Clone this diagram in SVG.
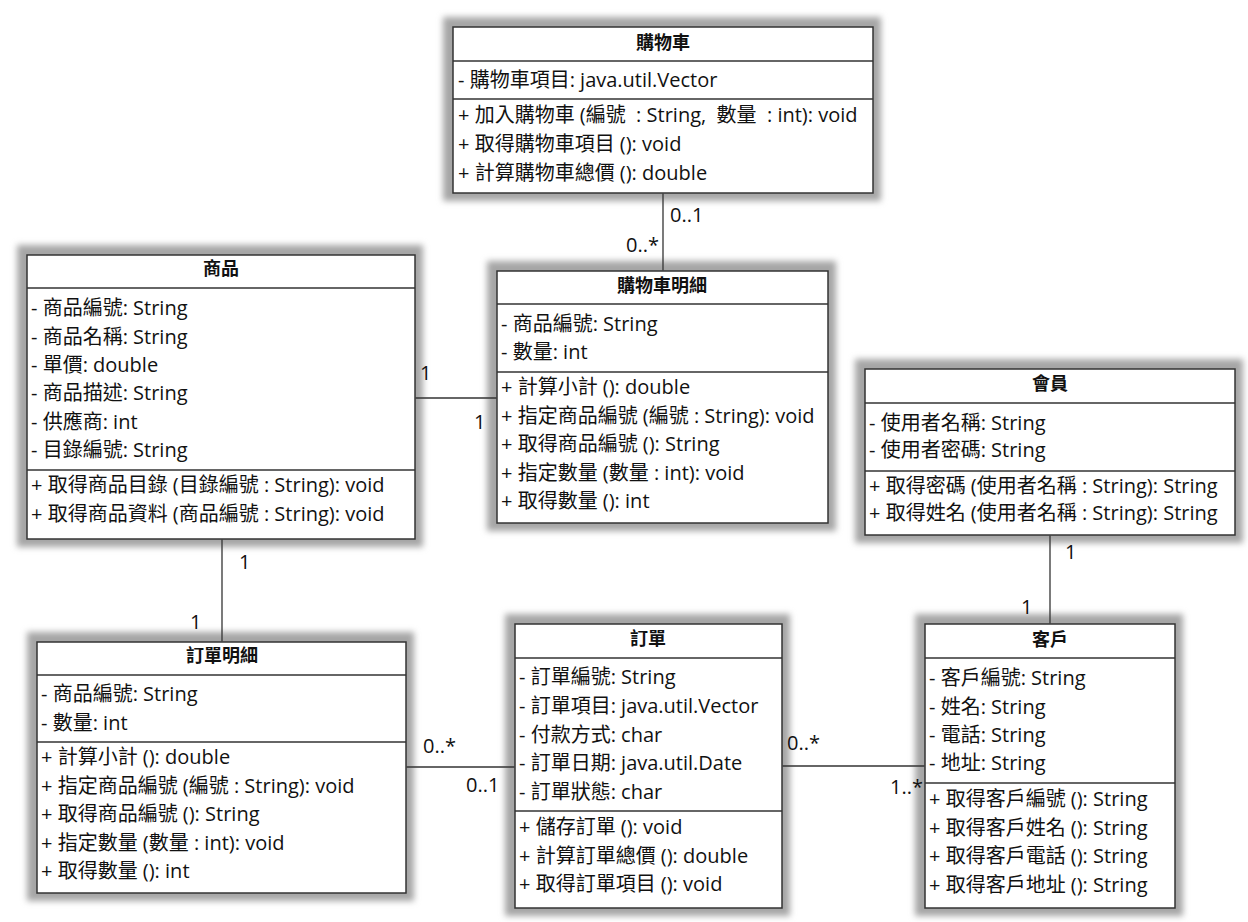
<svg xmlns="http://www.w3.org/2000/svg" width="1248" height="922" viewBox="0 0 1248 922">
<style>
text{font-family:"Open Sans","Noto Sans CJK TC",sans-serif;font-size:20px;fill:#111}
.t{font-size:18px;font-weight:bold;text-anchor:middle}
.box{fill:#fff;stroke:#333;stroke-width:1.5}
.div{stroke:#333;stroke-width:1.3}
.sh{fill:#a6a6a6;filter:url(#blur)}
.con line{stroke:#333;stroke-width:1.3}
</style>
<defs>
<filter id="blur" x="-10%" y="-10%" width="120%" height="120%"><feGaussianBlur stdDeviation="3"/></filter>
</defs>
<rect width="1248" height="922" fill="#fff"/>

<g id="cart">
<rect class="sh" x="443" y="17" width="438" height="184"/>
<rect class="box" x="453" y="27" width="420" height="166"/>
<line class="div" x1="453" y1="61" x2="873" y2="61"/>
<line class="div" x1="453" y1="99" x2="873" y2="99"/>
<text class="t" x="663" y="49">購物車</text>
<text x="458" y="87">- 購物車項目: java.util.Vector</text>
<text x="458" y="122">+ 加入購物車 (編號&#160;&#160;: String,&#160;&#160;數量&#160;&#160;: int): void</text>
<text x="458" y="151">+ 取得購物車項目 (): void</text>
<text x="458" y="179.5">+ 計算購物車總價 (): double</text>
</g>

<g id="product">
<rect class="sh" x="17" y="245" width="406" height="302"/>
<rect class="box" x="27" y="255" width="388" height="284"/>
<line class="div" x1="27" y1="288" x2="415" y2="288"/>
<line class="div" x1="27" y1="470" x2="415" y2="470"/>
<text class="t" x="221" y="275">商品</text>
<text x="31" y="315">- 商品編號: String</text>
<text x="31" y="343.5">- 商品名稱: String</text>
<text x="31" y="372">- 單價: double</text>
<text x="31" y="400">- 商品描述: String</text>
<text x="31" y="428.5">- 供應商: int</text>
<text x="31" y="457">- 目錄編號: String</text>
<text x="31" y="492">+ 取得商品目錄 (目錄編號 : String): void</text>
<text x="31" y="520.5">+ 取得商品資料 (商品編號 : String): void</text>
</g>

<g id="cartItem">
<rect class="sh" x="487" y="261" width="349" height="270"/>
<rect class="box" x="497" y="271" width="331" height="252"/>
<line class="div" x1="497" y1="304" x2="828" y2="304"/>
<line class="div" x1="497" y1="372" x2="828" y2="372"/>
<text class="t" x="662" y="292">購物車明細</text>
<text x="501" y="331">- 商品編號: String</text>
<text x="501" y="358.5">- 數量: int</text>
<text x="501" y="394">+ 計算小計 (): double</text>
<text x="501" y="422.5">+ 指定商品編號 (編號 : String): void</text>
<text x="501" y="451">+ 取得商品編號 (): String</text>
<text x="501" y="480">+ 指定數量 (數量 : int): void</text>
<text x="501" y="508">+ 取得數量 (): int</text>
</g>

<g id="member">
<rect class="sh" x="855" y="359" width="388" height="184"/>
<rect class="box" x="865" y="369" width="370" height="166"/>
<line class="div" x1="865" y1="403" x2="1235" y2="403"/>
<line class="div" x1="865" y1="471" x2="1235" y2="471"/>
<text class="t" x="1050" y="390">會員</text>
<text x="869" y="429.5">- 使用者名稱: String</text>
<text x="869" y="457">- 使用者密碼: String</text>
<text x="869" y="493">+ 取得密碼 (使用者名稱 : String): String</text>
<text x="869" y="520">+ 取得姓名 (使用者名稱 : String): String</text>
</g>

<g id="orderItem">
<rect class="sh" x="27" y="632" width="387" height="269"/>
<rect class="box" x="37" y="642" width="369" height="251"/>
<line class="div" x1="37" y1="675" x2="406" y2="675"/>
<line class="div" x1="37" y1="742" x2="406" y2="742"/>
<text class="t" x="222" y="662">訂單明細</text>
<text x="41" y="701">- 商品編號: String</text>
<text x="41" y="729.5">- 數量: int</text>
<text x="41" y="764">+ 計算小計 (): double</text>
<text x="41" y="792.5">+ 指定商品編號 (編號 : String): void</text>
<text x="41" y="821">+ 取得商品編號 (): String</text>
<text x="41" y="849.5">+ 指定數量 (數量 : int): void</text>
<text x="41" y="878">+ 取得數量 (): int</text>
</g>

<g id="order">
<rect class="sh" x="505" y="614" width="285" height="302"/>
<rect class="box" x="515" y="624" width="267" height="284"/>
<line class="div" x1="515" y1="658" x2="782" y2="658"/>
<line class="div" x1="515" y1="811" x2="782" y2="811"/>
<text class="t" x="648" y="645">訂單</text>
<text x="519" y="684">- 訂單編號: String</text>
<text x="519" y="713">- 訂單項目: java.util.Vector</text>
<text x="519" y="742">- 付款方式: char</text>
<text x="519" y="770">- 訂單日期: java.util.Date</text>
<text x="519" y="798.5">- 訂單狀態: char</text>
<text x="519" y="834">+ 儲存訂單 (): void</text>
<text x="519" y="863">+ 計算訂單總價 (): double</text>
<text x="519" y="891">+ 取得訂單項目 (): void</text>
</g>

<g id="customer">
<rect class="sh" x="915" y="614" width="268" height="302"/>
<rect class="box" x="925" y="624" width="250" height="284"/>
<line class="div" x1="925" y1="658" x2="1175" y2="658"/>
<line class="div" x1="925" y1="783" x2="1175" y2="783"/>
<text class="t" x="1050" y="646">客戶</text>
<text x="929" y="684.5">- 客戶編號: String</text>
<text x="929" y="713.5">- 姓名: String</text>
<text x="929" y="742">- 電話: String</text>
<text x="929" y="770">- 地址: String</text>
<text x="929" y="806">+ 取得客戶編號 (): String</text>
<text x="929" y="835">+ 取得客戶姓名 (): String</text>
<text x="929" y="863">+ 取得客戶電話 (): String</text>
<text x="929" y="892">+ 取得客戶地址 (): String</text>
</g>

<g id="connectors" class="con">
<line x1="663" y1="193.5" x2="663" y2="270.5"/>
<line x1="415.5" y1="398" x2="496.5" y2="398"/>
<line x1="222" y1="539.5" x2="222" y2="641.5"/>
<line x1="406.5" y1="767" x2="514.5" y2="767"/>
<line x1="782.5" y1="766" x2="924.5" y2="766"/>
<line x1="1050" y1="535.5" x2="1050" y2="623.5"/>
<text x="670" y="222">0..1</text>
<text x="626" y="252">0..*</text>
<text x="420" y="380">1</text>
<text x="474" y="429">1</text>
<text x="239" y="569">1</text>
<text x="190" y="629">1</text>
<text x="423" y="753">0..*</text>
<text x="466" y="792">0..1</text>
<text x="787" y="750">0..*</text>
<text x="890" y="794">1..*</text>
<text x="1065" y="559">1</text>
<text x="1021" y="614">1</text>
</g>
</svg>
